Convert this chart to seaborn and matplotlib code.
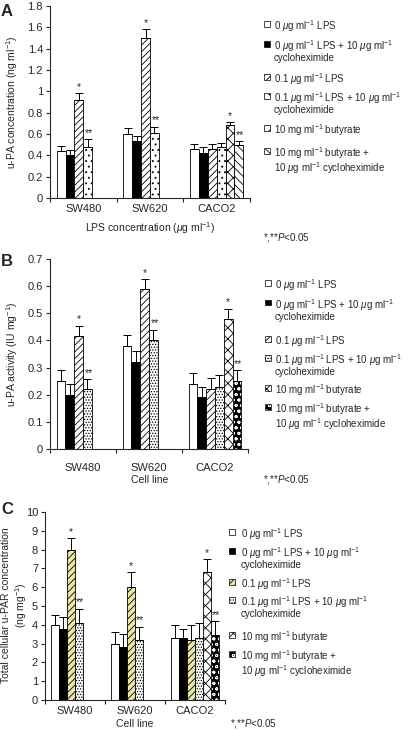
import numpy as np
import pandas as pd
import matplotlib
matplotlib.use("Agg")
import matplotlib.pyplot as plt
import seaborn as sns
from matplotlib.patches import Rectangle

nan = np.nan

cells = ["SW480", "SW620", "CACO2"]
treatments = ["0 LPS", "0 LPS + CHX", "0.1 LPS", "0.1 LPS + CHX", "butyrate", "butyrate + CHX"]

# rows = treatment, columns = cell line
upa_conc = [[0.44, 0.60, 0.46], [0.40, 0.53, 0.42], [0.92, 1.50, 0.46],
            [0.48, 0.61, 0.48], [nan, nan, 0.68], [nan, nan, 0.50]]
upa_conc_err = [[0.05, 0.06, 0.05], [0.05, 0.05, 0.06], [0.06, 0.08, 0.05],
                [0.07, 0.06, 0.04], [nan, nan, 0.03], [nan, nan, 0.03]]

upa_act = [[0.25, 0.38, 0.24], [0.20, 0.32, 0.19], [0.415, 0.59, 0.22],
           [0.22, 0.40, 0.23], [nan, nan, 0.48], [nan, nan, 0.25]]
upa_act_err = [[0.04, 0.04, 0.04], [0.04, 0.04, 0.04], [0.04, 0.035, 0.04],
               [0.037, 0.04, 0.042], [nan, nan, 0.036], [nan, nan, 0.04]]

upar = [[4.0, 3.0, 3.3], [3.8, 2.8, 3.3], [8.0, 6.0, 3.2],
        [4.1, 3.2, 3.3], [nan, nan, 6.8], [nan, nan, 3.45]]
upar_err = [[0.5, 0.6, 0.7], [0.6, 0.7, 0.5], [0.6, 0.8, 0.8],
            [0.75, 0.7, 0.8], [nan, nan, 0.7], [nan, nan, 0.75]]

# (cell index, treatment index, mark)
signif = [(0, 2, "*"), (0, 3, "**"), (1, 2, "*"), (1, 3, "**"), (2, 4, "*"), (2, 5, "**")]

legend_labels = [
    r"0 $\mu$g ml$^{-1}$ LPS",
    "0 $\\mu$g ml$^{-1}$ LPS + 10 $\\mu$g ml$^{-1}$\ncycloheximide",
    r"0.1 $\mu$g ml$^{-1}$ LPS",
    "0.1 $\\mu$g ml$^{-1}$ LPS + 10 $\\mu$g ml$^{-1}$\ncycloheximide",
    r"10 mg ml$^{-1}$ butyrate",
    "10 mg ml$^{-1}$ butyrate +\n10 $\\mu$g ml$^{-1}$ cycloheximide",
]

sns.set_style("ticks")
plt.rcParams["font.family"] = ["Liberation Sans", "DejaVu Sans"]
plt.rcParams["mathtext.fontset"] = "custom"
plt.rcParams["mathtext.rm"] = "Liberation Sans"
plt.rcParams["mathtext.it"] = "Liberation Sans:italic"
plt.rcParams["hatch.linewidth"] = 0.6
plt.rcParams["axes.linewidth"] = 0.8

W, H = 412, 731
fig = plt.figure(figsize=(W / 100, H / 100), dpi=100)
fig.patch.set_facecolor("white")


def fx(x):
    return x / W


def fy(y):
    return 1 - y / H


# styles: (facecolor, hatch, hatch/edge colour)
style_a = [("white", None, "black"), ("black", None, "black"), ("white", "/////", "black"),
           ("white", "...", "black"), ("white", "xxx", "black"), ("white", "\\\\\\\\", "black")]
style_b = [("white", None, "black"), ("black", None, "black"), ("white", "/////", "black"),
           ("white", "......", "black"), ("white", "xxx", "black"), ("black", "ooo", "white")]
style_c = [("white", None, "black"), ("black", None, "black"), ("#ebe7a6", "/////", "black"),
           ("white", "......", "black"), ("white", "xxx", "black"), ("black", "ooo", "white")]


def panel(box, means, errs, styles, ylim, yticks, yticklabels, tickpad):
    left, right, top, bottom = box
    ax = fig.add_axes([fx(left), fy(bottom), (right - left) / W, (bottom - top) / H])
    rows = []
    for t, tr in enumerate(treatments):
        for c, cell in enumerate(cells):
            if not np.isnan(means[t][c]):
                rows.append({"cell": cell, "treatment": tr, "value": means[t][c]})
    df = pd.DataFrame(rows)
    pal = {tr: styles[i][0] for i, tr in enumerate(treatments)}
    sns.barplot(data=df, x="cell", y="value", hue="treatment", order=cells,
                hue_order=treatments, palette=pal, saturation=1, errorbar=None,
                width=0.8, legend=False, ax=ax)
    slot = 0.8 / len(treatments)
    for p in list(ax.patches):
        xc = p.get_x() + p.get_width() / 2
        c = int(round(xc))
        t = int(round((xc - c + 0.4 - slot / 2) / slot))
        fc, hatch, hc = styles[t]
        p.set_linewidth(0.6)
        p.set_edgecolor(hc)
        if hatch:
            p.set_hatch(hatch)
        if hc != "black":
            ax.add_patch(Rectangle((p.get_x(), 0), p.get_width(), p.get_height(),
                                   fill=False, edgecolor="black", lw=0.6, zorder=p.get_zorder() + 0.1))
        h = p.get_height()
        e = errs[t][c]
        ax.errorbar(xc, h, yerr=[[0], [e]], fmt="none", ecolor="black",
                    elinewidth=0.7, capsize=3, capthick=0.7, zorder=4)
    for c, t, mark in signif:
        xc = c - 0.4 + slot * (t + 0.5)
        ax.annotate(mark, (xc + (0.02 if mark == "**" else 0), means[t][c] + errs[t][c]),
                    xytext=(0, 1), textcoords="offset points", ha="center", va="bottom",
                    fontsize=7.5)
    ax.set_xlim(-0.5, 2.5)
    ax.set_ylim(*ylim)
    ax.set_yticks(yticks)
    ax.set_yticklabels(yticklabels, fontsize=8)
    ax.set_xticks(range(len(cells)))
    ax.set_xticklabels(cells, fontsize=8)
    ax.set_xticks([-0.5, 0.5, 1.5, 2.5], minor=True)
    ax.tick_params(axis="x", which="major", length=0, pad=tickpad)
    ax.tick_params(axis="x", which="minor", length=3, width=0.8, direction="out")
    ax.tick_params(axis="y", length=3, width=0.8, direction="out", pad=2)
    ax.set_xlabel("")
    ax.set_ylabel("")
    sns.despine(ax=ax)
    ax.set_facecolor("none")
    return ax


def legend(x_sq, x_txt, ys, styles):
    for i, label in enumerate(legend_labels):
        fc, hatch, hc = styles[i]
        y = ys[i]
        sq = Rectangle((fx(x_sq), fy(y + 2.5)), 5.5 / W, 5.5 / H, transform=fig.transFigure,
                       facecolor=fc, edgecolor=hc, hatch=hatch, lw=0.5)
        fig.add_artist(sq)
        if hc != "black":
            fig.add_artist(Rectangle((fx(x_sq), fy(y + 2.5)), 5.5 / W, 5.5 / H,
                                     transform=fig.transFigure, fill=False,
                                     edgecolor="black", lw=0.5))
        fig.text(fx(x_txt), fy(y - 6), label, fontsize=7, va="top", ha="left",
                 linespacing=0.95)


# Panel A
panel((50, 250, 6, 198), upa_conc, upa_conc_err, style_a, (0, 1.8),
      np.arange(0, 1.81, 0.2), ["0", "0.2", "0.4", "0.6", "0.8", "1", "1.2", "1.4", "1.6", "1.8"], 4)
fig.text(fx(12), fy(102), r"u-PA concentration (ng ml$^{-1}$)", rotation=90,
         ha="center", va="center", fontsize=7.5)
fig.text(fx(150), fy(228), r"LPS concentration ($\mu$g ml$^{-1}$)", ha="center",
         va="center", fontsize=7.5)
fig.text(fx(1), fy(11), "A", fontsize=12, fontweight="bold", va="center")
legend(264, 274, [24, 44, 77, 96, 128, 151], style_a)
fig.text(fx(263), fy(238), r"*,**$P$<0.05", fontsize=7, va="center")

# Panel B
panel((50, 248, 259, 449), upa_act, upa_act_err, style_b, (0, 0.7),
      np.arange(0, 0.71, 0.1), ["0", "0.1", "0.2", "0.3", "0.4", "0.5", "0.6", "0.7"], 10)
fig.text(fx(12), fy(354), r"u-PA activity (IU mg$^{-1}$)", rotation=90,
         ha="center", va="center", fontsize=7.5)
fig.text(fx(150), fy(480), "Cell line", ha="center", va="center", fontsize=7.5)
fig.text(fx(1), fy(261), "B", fontsize=12, fontweight="bold", va="center")
legend(265, 275, [283, 303, 339, 358, 388, 407], style_b)
fig.text(fx(263), fy(480), r"*,**$P$<0.05", fontsize=7, va="center")

# Panel C
panel((45, 225, 512, 700), upar, upar_err, style_c, (0, 10),
      np.arange(0, 11, 1), [str(i) for i in range(11)], 4)
fig.text(fx(15), fy(605), "Total cellular u-PAR concentration\n(ng mg$^{-1}$)", rotation=90,
         ha="center", va="center", fontsize=7.5, multialignment="center")
fig.text(fx(135), fy(724), "Cell line", ha="center", va="center", fontsize=7.5)
fig.text(fx(1), fy(509), "C", fontsize=12, fontweight="bold", va="center")
legend(229, 241, [532, 551, 582, 600, 635, 654], style_c)
fig.text(fx(230), fy(723), r"*,**$P$<0.05", fontsize=7, va="center")

fig.savefig("out.png", dpi=100)
